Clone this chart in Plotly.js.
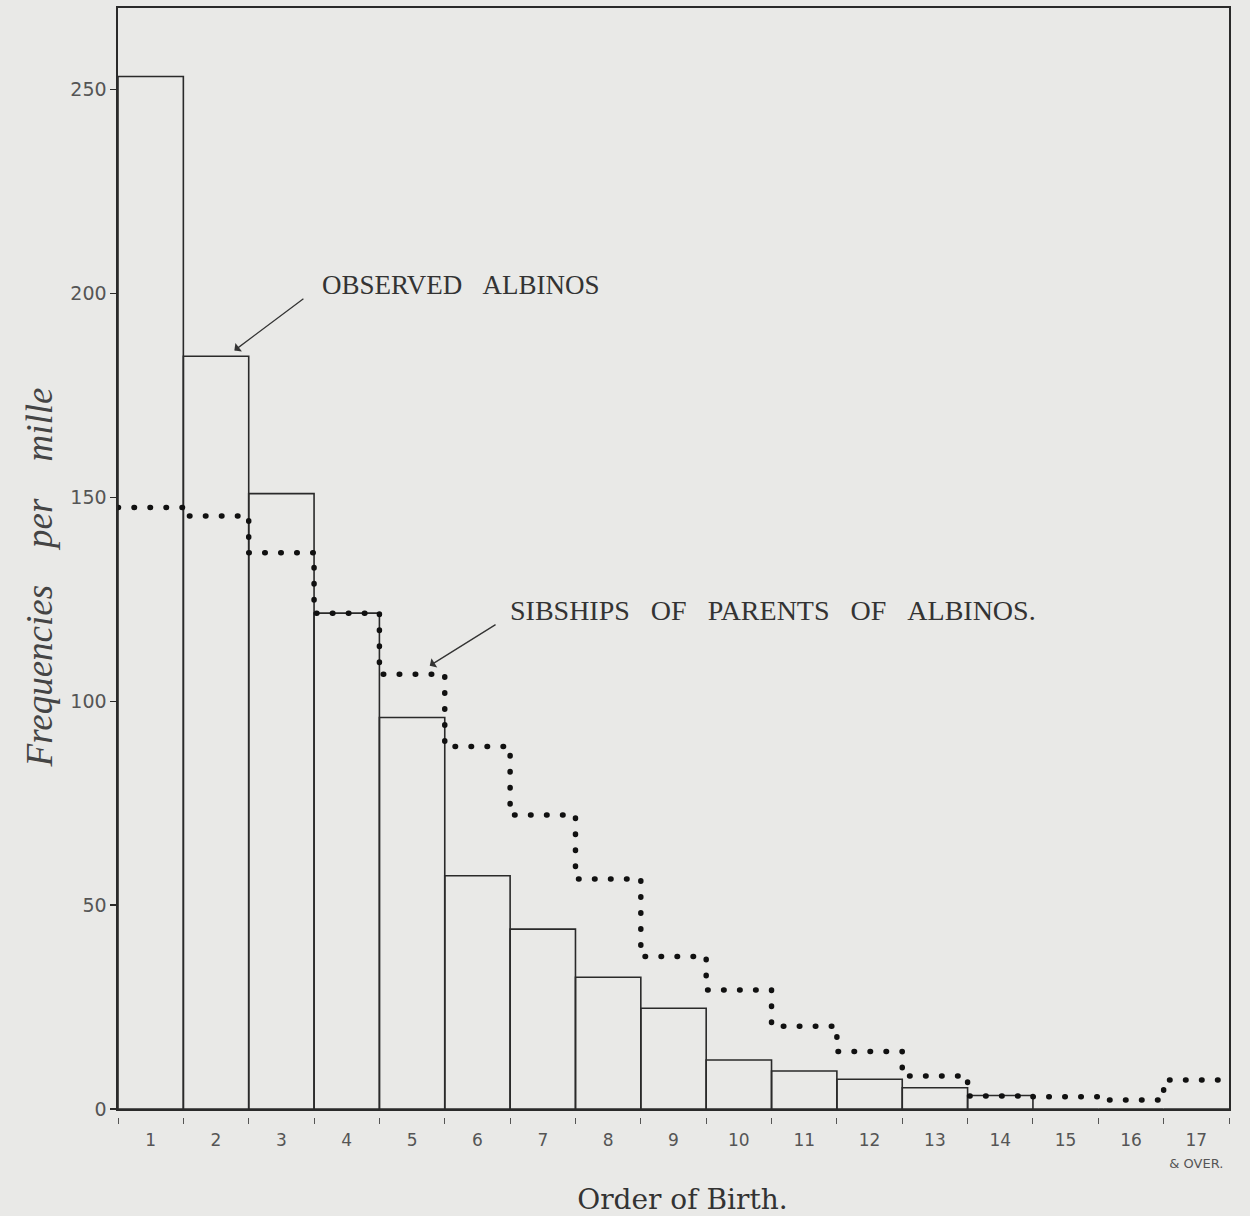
<!DOCTYPE html>
<html><head><meta charset="utf-8">
<script src="https://cdn.plot.ly/plotly-3.0.1.min.js"></script>
<style>
html,body{margin:0;padding:0;background:#e9e9e7}
#chart .scatterlayer .js-line{stroke-linecap:round;stroke-linejoin:round}
</style></head>
<body><div id="chart" style="width:1250px;height:1216px"></div>
<script>
// Order of birth (bins); 17 = "17 & over"
const birthOrder = [1,2,3,4,5,6,7,8,9,10,11,12,13,14,15,16,17];
const birthLabels = ['1','2','3','4','5','6','7','8','9','10','11','12','13','14','15','16',
  '17<br><span style="font-size:13px">&amp; OVER.</span>'];
// Observed albinos, frequency per mille
const observedAlbinos = [253.2,184.6,150.9,121.6,96.0,57.2,44.1,32.3,24.7,12.0,9.3,7.3,5.2,3.3,0,0,0];
// Sibships of parents of albinos, frequency per mille
const sibshipsParents = [147.5,145.4,136.4,121.6,106.6,88.9,72.1,56.4,37.4,29.2,20.3,14.1,8.1,3.2,3.0,2.2,7.1];
const yTicks = [0,50,100,150,200,250];

const binEdges = birthOrder.map(v => v - 0.5).concat([birthOrder[birthOrder.length-1] + 0.5]);
const stepY = sibshipsParents.concat([sibshipsParents[sibshipsParents.length-1]]);

const ink = '#2a2a2a';
const bg = '#e9e9e7';
const sp = '&nbsp;&nbsp;&nbsp;';

const traces = [
  {
    type:'bar', x:birthOrder, y:observedAlbinos, width:1,
    marker:{color:'rgba(0,0,0,0)', line:{color:ink, width:1.6}},
    xaxis:'x', yaxis:'y', hoverinfo:'skip', showlegend:false
  },
  {
    type:'scatter', mode:'lines', x:binEdges, y:stepY,
    line:{shape:'hv', color:'#111', width:5.5, dash:'0.5px,15.5px'},
    xaxis:'x2', yaxis:'y', hoverinfo:'skip', showlegend:false
  }
];

const layout = {
  width:1250, height:1216,
  paper_bgcolor:bg, plot_bgcolor:bg,
  margin:{l:118, r:21, t:8, b:95},
  showlegend:false,
  xaxis:{
    range:[0.5,17.5], tickmode:'array', tickvals:birthOrder, ticktext:birthLabels,
    ticks:'', showline:true, mirror:true, linecolor:ink, linewidth:1.6,
    showgrid:false, zeroline:false, ticklabelstandoff:15,
    tickfont:{family:'DejaVu Sans', size:17, color:'#555'},
    title:{text:'&nbsp;&nbsp;Order of Birth.', standoff:20,
      font:{family:'DejaVu Serif', size:28, color:'#333'}}
  },
  xaxis2:{
    overlaying:'x', anchor:'free', position:0.0036,
    range:[0.5,17.5], tickmode:'array', tickvals:binEdges,
    ticks:'outside', ticklen:6, tickwidth:1, tickcolor:'#555',
    showticklabels:false, showline:false, showgrid:false, zeroline:false
  },
  yaxis:{
    domain:[0.0108,1], range:[0,270], tickmode:'array', tickvals:yTicks,
    ticks:'outside', ticklen:6, tickwidth:1.2, tickcolor:ink,
    showline:true, mirror:true, linecolor:ink, linewidth:1.6,
    showgrid:false, zeroline:false,
    tickfont:{family:'DejaVu Sans', size:19, color:'#555'},
    title:{text:'Frequencies' + sp + '&nbsp;per' + sp + '&nbsp;mille' + sp + '&nbsp;', standoff:6,
      font:{family:'Liberation Serif', size:37, color:'#444', style:'italic'}}
  },
  annotations:[
    {x:3.59, y:202, xref:'x', yref:'y', xanchor:'left', yanchor:'middle', showarrow:false,
     text:'OBSERVED' + sp + 'ALBINOS',
     font:{family:'Liberation Serif', size:27, color:'#333'}},
    {x:2.28, y:186, ax:3.36, ay:199, xref:'x', yref:'y', axref:'x', ayref:'y',
     text:'', showarrow:true, arrowhead:1, arrowsize:1.4, arrowwidth:1.3, arrowcolor:'#333'},
    {x:6.47, y:122.2, xref:'x', yref:'y', xanchor:'left', yanchor:'middle', showarrow:false,
     text:'SIBSHIPS' + sp + 'OF' + sp + 'PARENTS' + sp + 'OF' + sp + 'ALBINOS.',
     font:{family:'Liberation Serif', size:28, color:'#333'}},
    {x:5.27, y:108.7, ax:6.3, ay:119, xref:'x', yref:'y', axref:'x', ayref:'y',
     text:'', showarrow:true, arrowhead:1, arrowsize:1.4, arrowwidth:1.3, arrowcolor:'#333'}
  ]
};

Plotly.newPlot('chart', traces, layout, {displayModeBar:false, staticPlot:true});
</script></body></html>
